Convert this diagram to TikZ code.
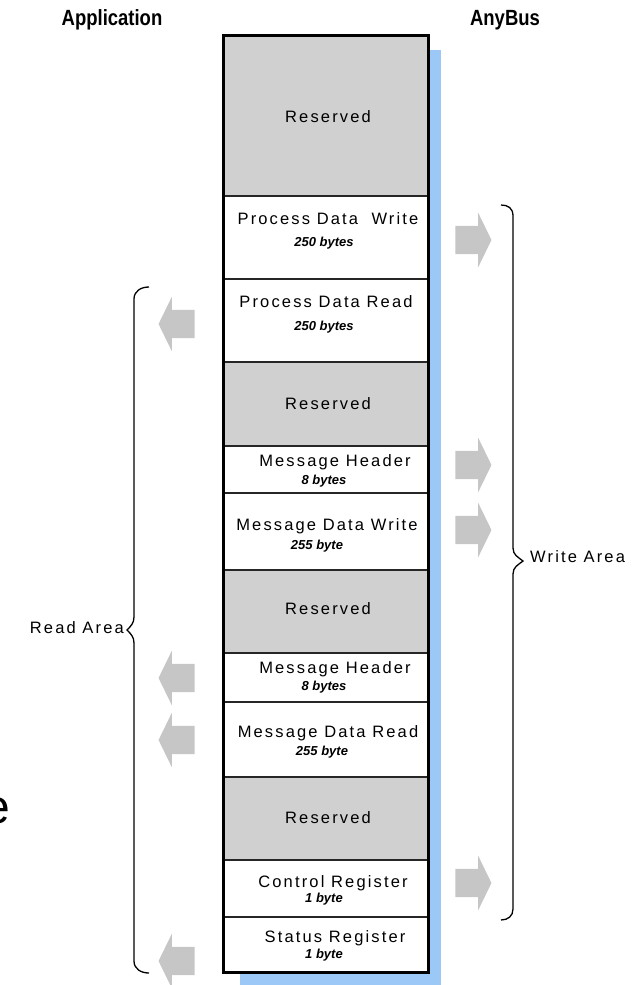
\documentclass[tikz,border=0pt]{standalone}
\usepackage{fontspec}
\usepackage{graphicx}
\setmainfont{Liberation Sans}
\newfontfamily\rowfont[LetterSpace=13]{Liberation Sans}
\usetikzlibrary{shapes.arrows}

\begin{document}
\begin{tikzpicture}[x=1pt, y=-1pt,
  rowtitle/.style={font=\rowfont\fontsize{16.5}{18}\selectfont, inner sep=0},
  rowsize/.style={font=\fontsize{13}{14}\selectfont\bfseries\itshape, inner sep=0},
  sidehead/.style={font=\fontsize{22}{24}\selectfont\bfseries, inner sep=0},
  blockarrow/.style={single arrow, fill=arrowGray, inner xsep=0, inner ysep=14, minimum height=36,
    single arrow head extend=13, single arrow tip angle=128},
  divider/.style={draw=black!85, line width=1.5},
  brace/.style={draw=black, line width=1.3}]

\definecolor{anyBlue}{HTML}{9CC8F8}
\definecolor{reservedGray}{HTML}{D0D0D0}
\definecolor{arrowGray}{HTML}{C6C6C6}
\useasboundingbox (0,0) rectangle (641,985);

% Headings
\node[sidehead] (app) at (112,20) {\scalebox{0.84}[1]{Application}};
\node[sidehead] (anybus) at (505,20) {\scalebox{0.84}[1]{AnyBus}};

% Blue shadow of the memory column
\fill[anyBlue] (428,50) rectangle (441,985);
\fill[anyBlue] (240,972) rectangle (441,985);

% Reserved areas (gray)
\fill[reservedGray] (223,35) rectangle (428,196);
\fill[reservedGray] (223,362) rectangle (428,446);
\fill[reservedGray] (223,570) rectangle (428,653);
\fill[reservedGray] (223,777) rectangle (428,860);

% Row dividers
\foreach \y in {196,279,362,446,493,570,653,702,777,860,917}
  \draw[divider] (223,\y) -- (428,\y);

% Outer frame
\draw[line width=3] (223,35) rectangle (428,972);

% Reserved
\node[rowtitle] (res1) at (328,117) {Reserved};
% Process Data Write
\node[rowtitle] (pdw) at (328,219) {Process Data\ \ Write};
\node[rowsize] (pdwsize) at (324,243) {250 bytes};
% Process Data Read
\node[rowtitle] (pdr) at (326,302) {Process Data Read};
\node[rowsize] (pdrsize) at (324,327) {250 bytes};
% Reserved
\node[rowtitle] (res2) at (328,404) {Reserved};
% Message Header
\node[rowtitle] (mhw) at (335,462) {Message Header};
\node[rowsize] (mhwsize) at (324,481) {8 bytes};
% Message Data Write
\node[rowtitle] (mdw) at (327,526) {Message Data Write};
\node[rowsize] (mdwsize) at (317,546) {255 byte};
% Reserved
\node[rowtitle] (res3) at (328,609) {Reserved};
% Message Header
\node[rowtitle] (mhr) at (335,669) {Message Header};
\node[rowsize] (mhrsize) at (324,687) {8 bytes};
% Message Data Read
\node[rowtitle] (mdr) at (328,733) {Message Data Read};
\node[rowsize] (mdrsize) at (322,752) {255 byte};
% Reserved
\node[rowtitle] (res4) at (328,818) {Reserved};
% Control Register
\node[rowtitle] (ctrl) at (333,883) {Control Register};
\node[rowsize] (ctrlsize) at (324,899) {1 byte};
% Status Register
\node[rowtitle] (stat) at (335,938) {Status Register};
\node[rowsize] (statsize) at (324,955) {1 byte};

% Arrows towards AnyBus (write)
\foreach \y/\name in {240/wr1, 465/wr2, 530/wr3, 883/wr4}
  \node[blockarrow] (\name) at (470,\y) {};

% Arrows towards the application (read)
\foreach \y/\name in {324/rd1, 678/rd2, 740/rd3, 961/rd4}
  \node[blockarrow, shape border rotate=180] (\name) at (180,\y) {};

% Write Area brace
\draw[brace] (501,205) .. controls (508,205) and (513,208) .. (513,216) -- (513,548)
  .. controls (513,555) and (518,557) .. (523,561) .. controls (518,565) and (513,567) .. (513,574)
  -- (513,909) .. controls (513,916) and (508,920) .. (501,920);
\node[rowtitle, anchor=west] (writearea) at (530,557) {Write Area};

% Read Area brace
\draw[brace] (149,287) .. controls (141,287) and (134,291) .. (134,299) -- (134,617)
  .. controls (134,623) and (131,626) .. (127,630) .. controls (131,634) and (134,637) .. (134,643)
  -- (134,961) .. controls (134,969) and (141,973) .. (149,973);
\node[rowtitle, anchor=east] (readarea) at (124,628) {Read Area};

% Stray letter at the left edge
\node[font=\fontsize{48}{48}\selectfont, anchor=base east, inner sep=0] (stray) at (10,823) {e};

\end{tikzpicture}
\end{document}
